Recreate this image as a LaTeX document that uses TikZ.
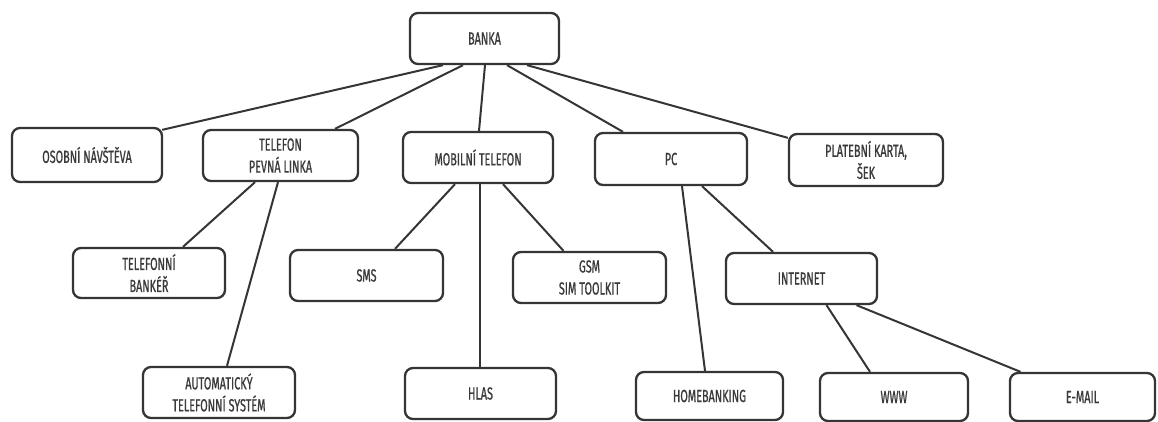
\documentclass[tikz,border=0pt]{standalone}
\usepackage{fontspec}
\setmainfont{Fira Sans}[FakeStretch=0.62,FakeBold=0.8]
\definecolor{ink}{HTML}{353535}
\definecolor{txt}{HTML}{3A3A3A}
\begin{document}
\begin{tikzpicture}[x=1pt,y=-1pt,
  box/.style={draw=ink,line width=2.3pt,rounded corners=8pt,fill=white,
    minimum width=#1,inner sep=0pt,align=center,text=txt,
    font=\fontsize{17.5}{22}\selectfont},
  box/.default=150pt,
  link/.style={draw=ink,line width=2pt}]
\useasboundingbox (0,0) rectangle (1158,422);
% level 0
\node[box=149pt,minimum height=51pt] (banka) at (484.5,38.5) {BANKA};
% level 1
\node[box=150pt,minimum height=54pt] (osobni) at (87,155) {OSOBNÍ NÁVŠTĚVA};
\node[box=155pt,minimum height=51pt] (telefon) at (280.5,155.5) {TELEFON\\PEVNÁ LINKA};
\node[box=150pt,minimum height=51pt] (mobil) at (478,157.5) {MOBILNÍ TELEFON};
\node[box=152pt,minimum height=52pt] (pc) at (671,159) {PC};
\node[box=154pt,minimum height=52pt] (karta) at (866,160) {PLATEBNÍ KARTA,\\ŠEK};
% level 2
\node[box=152pt,minimum height=50pt] (banker) at (149,273) {TELEFONNÍ\\BANKÉŘ};
\node[box=153pt,minimum height=51pt] (sms) at (366.5,275.5) {SMS};
\node[box=153pt,minimum height=51pt] (gsm) at (589.5,277.5) {GSM\\SIM TOOLKIT};
\node[box=151pt,minimum height=51pt] (internet) at (801.5,278.5) {INTERNET};
% level 3
\node[box=152pt,minimum height=51pt] (auto) at (219,392.5) {AUTOMATICKÝ\\TELEFONNÍ SYSTÉM};
\node[box=151pt,minimum height=51pt] (hlas) at (480.5,393.5) {HLAS};
\node[box=147pt,minimum height=48pt] (home) at (709.5,396) {HOMEBANKING};
\node[box=148pt,minimum height=48pt] (www) at (894,397) {WWW};
\node[box=145pt,minimum height=48pt] (email) at (1082.5,397) {E-MAIL};
% connectors
\path[link] ([xshift=-41.5pt]banka.south) -- ([xshift=-1pt,yshift=-3pt]osobni.north east);
\path[link] ([xshift=-21.5pt]banka.south) -- ([xshift=54.5pt]telefon.north);
\path[link] ([xshift=0.5pt]banka.south) -- ([xshift=1pt]mobil.north);
\path[link] ([xshift=22.5pt]banka.south) -- ([xshift=-48pt]pc.north);
\path[link] ([xshift=42.5pt]banka.south) -- ([yshift=-5pt]karta.north west);
\path[link] ([xshift=-25.5pt]telefon.south) -- ([xshift=34pt]banker.north);
\path[link] ([xshift=-2.5pt]telefon.south) -- ([xshift=8pt]auto.north);
\path[link] ([xshift=-23pt]mobil.south) -- ([xshift=28.5pt]sms.north);
\path[link] ([xshift=2pt]mobil.south) -- ([xshift=-0.5pt]hlas.north);
\path[link] ([xshift=25pt]mobil.south) -- ([xshift=-26pt]gsm.north);
\path[link] ([xshift=11pt]pc.south) -- ([xshift=-4.5pt]home.north);
\path[link] ([xshift=31pt]pc.south) -- ([xshift=-28.5pt]internet.north);
\path[link] ([xshift=25pt]internet.south) -- ([xshift=-24pt]www.north);
\path[link] ([xshift=55pt]internet.south) -- ([xshift=-62pt]email.north);
\end{tikzpicture}
\end{document}
